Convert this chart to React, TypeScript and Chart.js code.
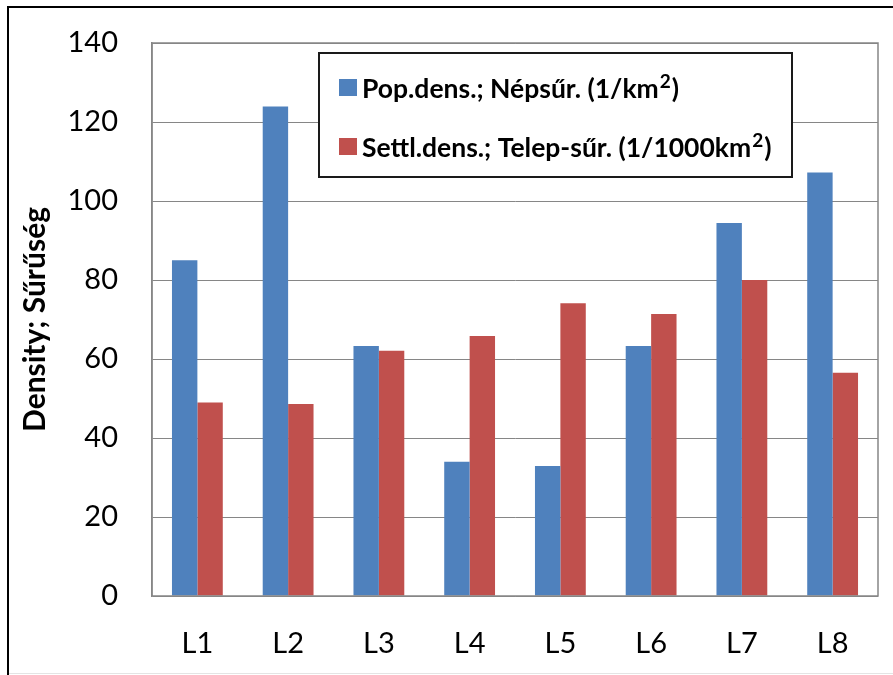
import { useEffect, useRef } from "react";
import { Chart, registerables } from "chart.js";

Chart.register(...registerables);

const categories = ["L1", "L2", "L3", "L4", "L5", "L6", "L7", "L8"];
const popDensity = [85.0, 123.9, 63.3, 34.0, 32.9, 63.3, 94.4, 107.2];
const settlDensity = [49.0, 48.6, 62.1, 65.8, 74.1, 71.4, 80.0, 56.5];
const yTicks = [0, 20, 40, 60, 80, 100, 120, 140];
const seriesLabels = ["Pop.dens.; Népsűr. (1/km²)", "Settl.dens.; Telep-sűr. (1/1000km²)"];
const seriesColors = ["#4F81BD", "#C0504D"];
const yAxisTitle = "Density; Sűrűség";

const FONT = "Lato, 'Open Sans', 'DejaVu Sans', sans-serif";

function drawSupText(ctx: CanvasRenderingContext2D, text: string, x: number, y: number, size: number) {
  const parts = text.split("²");
  let cx = x;
  parts.forEach((p, i) => {
    ctx.font = `bold ${size}px ${FONT}`;
    ctx.fillText(p, cx, y);
    cx += ctx.measureText(p).width;
    if (i < parts.length - 1) {
      const s = Math.round(size * 0.72);
      ctx.font = `bold ${s}px ${FONT}`;
      ctx.fillText("2", cx + 1, y - size * 0.28);
      cx += ctx.measureText("2").width + 2;
    }
  });
}

const framePlugin = {
  id: "framePlugin",
  beforeDraw(chart: any) {
    const ctx = chart.ctx as CanvasRenderingContext2D;
    ctx.save();
    ctx.fillStyle = "#ffffff";
    ctx.fillRect(0, 0, chart.width, chart.height);
    ctx.fillStyle = "#000000";
    ctx.fillRect(7, 6, chart.width - 7, 2);
    ctx.fillRect(7, 6, 2, chart.height - 6);
    ctx.fillStyle = "#e4e4e4";
    ctx.fillRect(9, chart.height - 2, chart.width - 9, 1);
    ctx.restore();
  },
  afterDraw(chart: any) {
    const ctx = chart.ctx as CanvasRenderingContext2D;
    const { left, top, right, bottom } = chart.chartArea;
    ctx.save();
    ctx.strokeStyle = "#868686";
    ctx.lineWidth = 1.5;
    ctx.strokeRect(left, top, right - left, bottom - top);
    // legend box
    const bx = left + 167;
    const by = top + 10;
    const bw = 473;
    const bh = 124;
    ctx.fillStyle = "#ffffff";
    ctx.fillRect(bx, by, bw, bh);
    ctx.strokeStyle = "#1a1a1a";
    ctx.lineWidth = 2;
    ctx.strokeRect(bx, by, bw, bh);
    const rows = [by + 35, by + 94];
    chart.data.datasets.forEach((ds: any, i: number) => {
      const cy = rows[i];
      ctx.fillStyle = ds.backgroundColor;
      ctx.fillRect(bx + 20, cy - 9, 18, 17);
      ctx.fillStyle = "#000000";
      ctx.textBaseline = "middle";
      ctx.textAlign = "left";
      drawSupText(ctx, ds.label, bx + 43, cy + 1, 26.5);
    });
    ctx.restore();
  },
};

export default function App() {
  const ref = useRef<HTMLCanvasElement | null>(null);
  useEffect(() => {
    if (!ref.current) return;
    const chart = new Chart(ref.current, {
      type: "bar",
      data: {
        labels: categories,
        datasets: [
          { label: seriesLabels[0], data: popDensity, backgroundColor: seriesColors[0], borderWidth: 0 },
          { label: seriesLabels[1], data: settlDensity, backgroundColor: seriesColors[1], borderWidth: 0 },
        ],
      },
      options: {
        animation: false,
        responsive: false,
        maintainAspectRatio: false,
        layout: { padding: { left: 0, right: 15, top: 43, bottom: 0 } },
        plugins: {
          legend: { display: false },
          tooltip: { enabled: false },
        },
        datasets: { bar: { categoryPercentage: 0.56, barPercentage: 1.0 } },
        scales: {
          x: {
            grid: { display: false, drawTicks: false },
            border: { display: false },
            ticks: { color: "#000", font: { family: FONT, size: 29 }, padding: 30 },
            afterFit: (s: any) => {
              s.height = 79;
            },
          },
          y: {
            min: 0,
            max: 140,
            afterBuildTicks: (s: any) => {
              s.ticks = yTicks.map((v) => ({ value: v }));
            },
            grid: { color: "#868686", lineWidth: 1, drawTicks: false },
            border: { display: true, color: "#868686", width: 1.5 },
            ticks: { color: "#000", font: { family: FONT, size: 29, lineHeight: 0.5 }, padding: 34 },
            title: {
              display: true,
              text: yAxisTitle,
              color: "#000",
              font: { family: FONT, size: 30, weight: "bold" },
              padding: { top: 17, bottom: 0 },
            },
            afterFit: (s: any) => {
              s.width = 152;
            },
          },
        },
      },
      plugins: [framePlugin],
    });
    return () => chart.destroy();
  }, []);
  return (
    <div style={{ position: "fixed", left: 0, top: 0, width: 893, height: 675 }}>
      <canvas ref={ref} width={893} height={675} style={{ display: "block", width: 893, height: 675 }} />
    </div>
  );
}
